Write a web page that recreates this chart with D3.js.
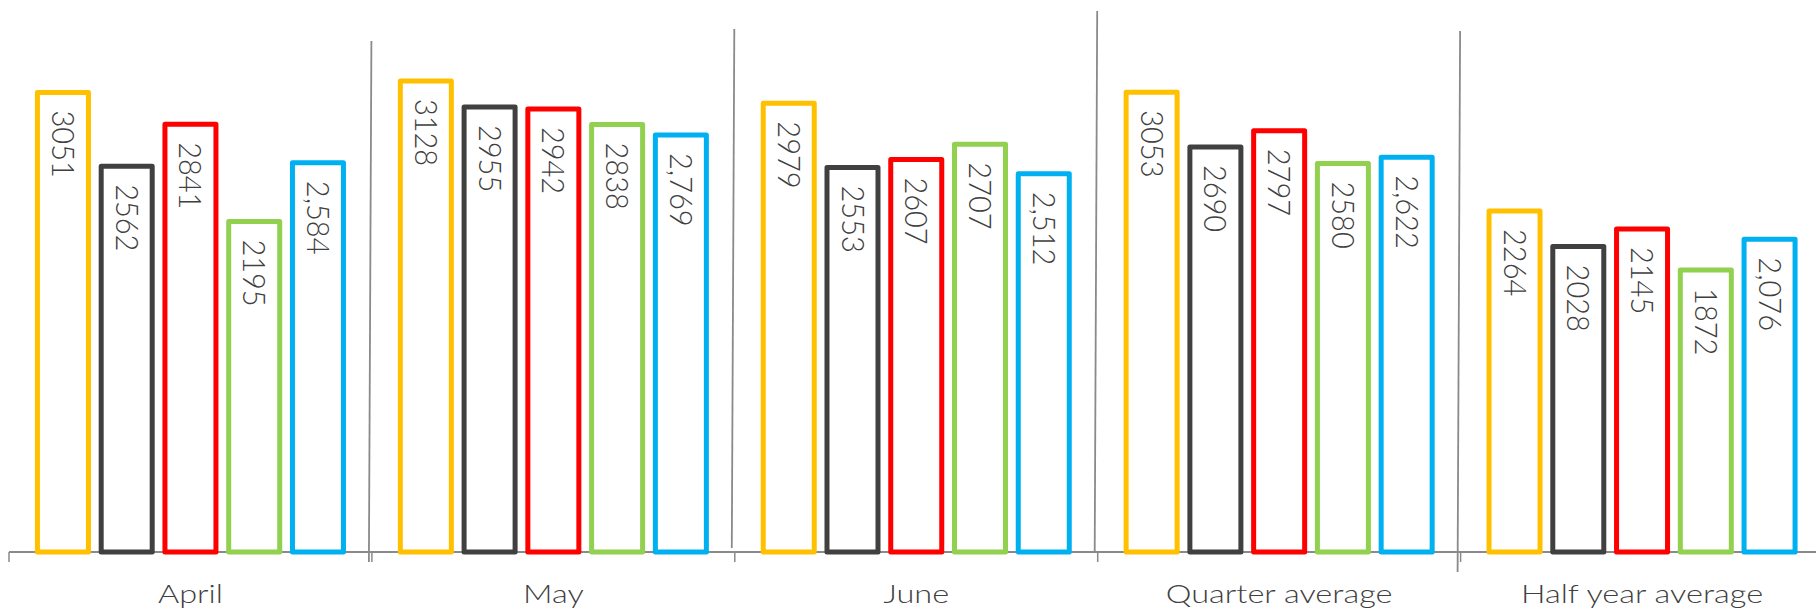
<!DOCTYPE html>
<html>
<head>
<meta charset="utf-8">
<script src="https://cdn.jsdelivr.net/npm/d3@7/dist/d3.min.js"></script>
<style>
  html, body { margin: 0; padding: 0; background: #fff; }
  svg { display: block; }
</style>
</head>
<body>
<svg id="chart" width="1816" height="612"></svg>
<script>
// ---- data ----
const categories = ["April", "May", "June", "Quarter average", "Half year average"];
const seriesNames = ["Yellow", "Dark", "Red", "Green", "Blue"];
const yellowValues = [3051, 3128, 2979, 3053, 2264];
const darkValues   = [2562, 2955, 2553, 2690, 2028];
const redValues    = [2841, 2942, 2607, 2797, 2145];
const greenValues  = [2195, 2838, 2707, 2580, 1872];
const blueValues   = [2584, 2769, 2512, 2622, 2076];
const seriesValues = [yellowValues, darkValues, redValues, greenValues, blueValues];
const seriesColors = ["#FFC000", "#404040", "#FF0000", "#92D050", "#00B0F0"];
const labelFormats = [d3.format("d"), d3.format("d"), d3.format("d"), d3.format("d"), d3.format(",")];

// separator styling (decorative)
const sepTops = [41, 29, 11, 31];
const sepBottoms = [562, 548, 552, 572];

// ---- layout ----
const W = 1816, H = 612;
const baseY = 552;
const left = 9, bandW = 362.9;
const FONT = "Lato, 'Open Sans', sans-serif";
const svg = d3.select("#chart");

const x0 = d3.scaleBand().domain(categories).range([left, left + bandW * categories.length]).padding(0);
const x1 = d3.scaleBand().domain(seriesNames).range([0, x0.bandwidth()]).paddingInner(0.2).paddingOuter(0.446);
const y = d3.scaleLinear().domain([0, 3500]).range([baseY, baseY - 3500 * 0.1506]);

const rows = categories.map((c, i) => ({
  cat: c,
  vals: seriesNames.map((s, j) => ({ s, j, v: seriesValues[j][i] }))
}));

// axis
const axis = d3.axisBottom(x0).tickSizeOuter(0).tickSizeInner(10).tickFormat("");
const axG = svg.append("g").attr("transform", `translate(0,${baseY})`).call(axis);
axG.select(".domain").remove();
axG.selectAll(".tick").remove();
const bounds = categories.map(c => x0(c));
axG.selectAll("line.bt").data(bounds).join("line")
  .attr("x1", d => d).attr("x2", d => d).attr("y1", 0).attr("y2", 10)
  .attr("stroke", "#8a8a8a").attr("stroke-width", 1.5);
axG.append("line").attr("x1", left).attr("x2", W).attr("y1", 0).attr("y2", 0)
  .attr("stroke", "#8a8a8a").attr("stroke-width", 1.8);

// separators
svg.selectAll("line.sep").data(bounds.slice(1)).join("line")
  .attr("class", "sep")
  .attr("x1", d => d - 0.5).attr("y1", (d, i) => sepTops[i])
  .attr("x2", d => d - 3).attr("y2", (d, i) => sepBottoms[i])
  .attr("stroke", "#8a8a8a").attr("stroke-width", 1.8);

// bars
const g = svg.selectAll("g.grp").data(rows).join("g")
  .attr("class", "grp")
  .attr("transform", d => `translate(${x0(d.cat)},0)`);

g.selectAll("rect").data(d => d.vals).join("rect")
  .attr("x", d => x1(d.s))
  .attr("y", d => y(d.v))
  .attr("width", x1.bandwidth())
  .attr("height", d => baseY - y(d.v))
  .attr("fill", "#fff")
  .attr("stroke", d => seriesColors[d.j])
  .attr("stroke-width", 5)
  .attr("stroke-linejoin", "round");

g.selectAll("text.val").data(d => d.vals).join("text")
  .attr("class", "val")
  .attr("transform", d => `translate(${x1(d.s) + x1.bandwidth() / 2},${y(d.v) + 18}) rotate(90) scale(1,1.05)`)
  .attr("dy", "0.36em")
  .attr("text-anchor", "start")
  .attr("font-family", FONT)
  .attr("font-weight", 300)
  .attr("font-size", 29)
  .attr("fill", "#404040")
  .text(d => labelFormats[d.j](d.v));

// category labels (horizontally widened like the reference)
const catScaleX = 1.25;
svg.selectAll("text.cat").data(categories).join("text")
  .attr("class", "cat")
  .attr("transform", d => `translate(${x0(d) + x0.bandwidth() / 2},603) scale(${catScaleX},1)`)
  .attr("text-anchor", "middle")
  .attr("font-family", FONT)
  .attr("font-weight", 300)
  .attr("font-size", 26)
  .attr("fill", "#404040")
  .text(d => d);
</script>
</body>
</html>
